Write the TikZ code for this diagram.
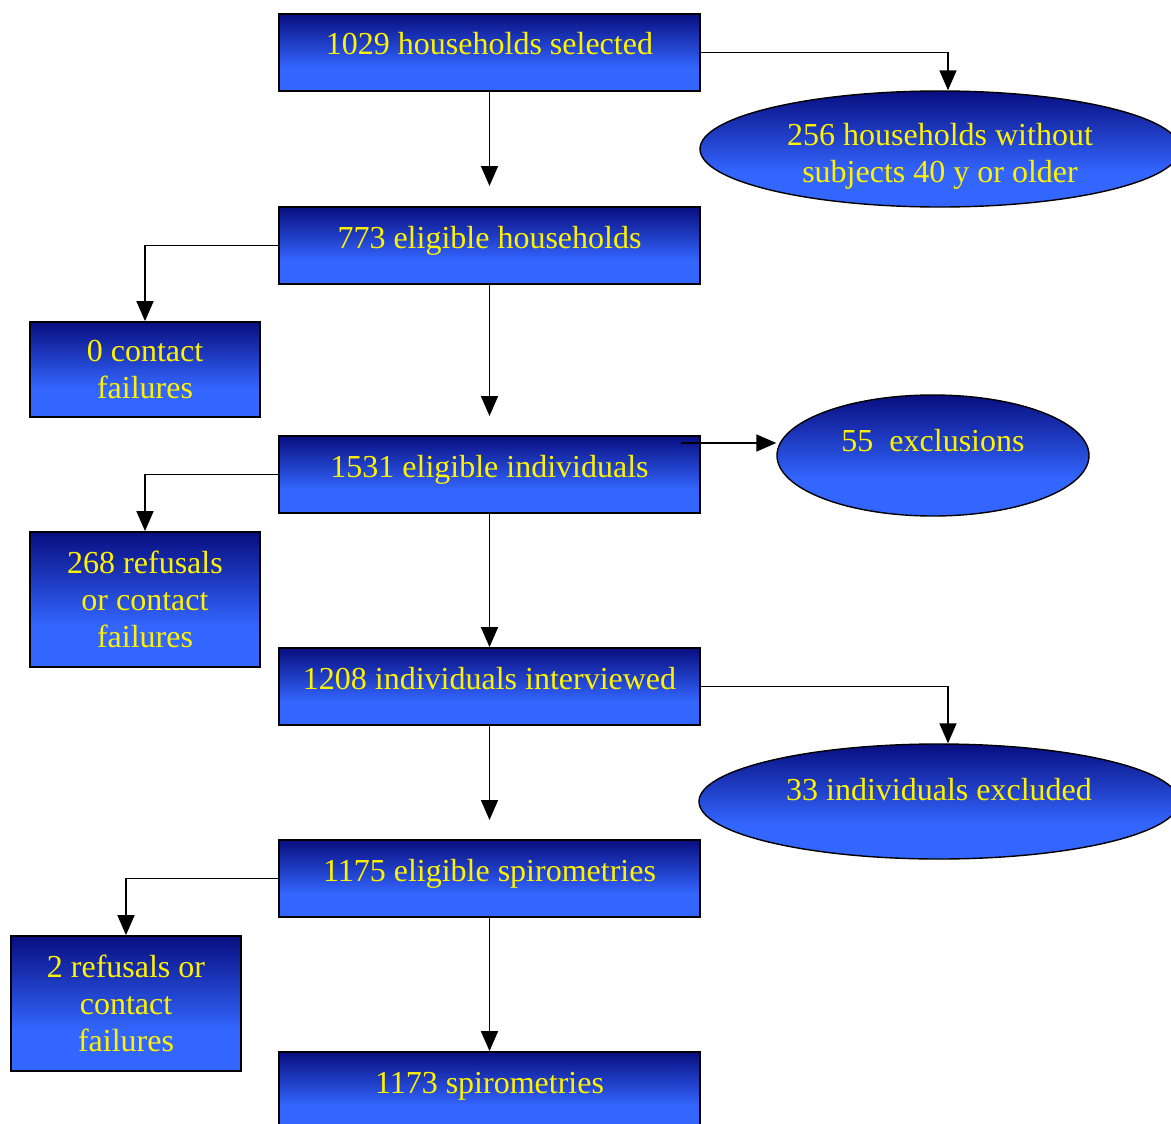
\documentclass[tikz,border=0pt]{standalone}
\usepackage{fontspec}
\setmainfont{Liberation Serif}
\usetikzlibrary{arrows.meta,shapes.geometric}

\definecolor{navytop}{RGB}{8,14,128}
\definecolor{bluebot}{RGB}{51,102,255}
\pgfdeclareverticalshading{boxfade}{100bp}{color(0bp)=(bluebot); color(40bp)=(bluebot); color(75bp)=(navytop); color(100bp)=(navytop)}

\tikzset{
  flowfill/.style={draw=black,shade,shading=boxfade,text=yellow,inner sep=0pt,font=\fontsize{32}{37}\selectfont},
  stepbox/.style={flowfill,rectangle,line width=1.8pt,minimum width=421pt,minimum height=77pt,text height=22pt,text depth=17pt},
  sidebox/.style={flowfill,rectangle,line width=1.8pt,minimum width=230pt,align=center},
  outoval/.style={flowfill,ellipse,line width=1.4pt,align=center},
  conn/.style={->,line width=1.7pt}
}

\begin{document}
\begin{tikzpicture}[x=1pt,y=-1pt,>={Triangle[length=20pt,width=17pt]}]
   \useasboundingbox (0,0) rectangle (1171,1124);

   \node[stepbox] (hs) at (489.5,52.5) {1029 households selected};
   \node[stepbox] (eh) at (489.5,245.5) {773 eligible households};
   \node[stepbox] (ei) at (489.5,474.5) {1531 eligible individuals};
   \node[stepbox] (iv) at (489.5,686.5) {1208 individuals interviewed};
   \node[stepbox] (es) at (489.5,878.5) {1175 eligible spirometries};
   \node[stepbox] (sp) at (489.5,1090.5) {1173 spirometries};

   \node[sidebox,minimum height=95pt] (cf) at (145,369.5) {0 contact\\failures};
   \node[sidebox,minimum height=135pt] (rf) at (145,599.5) {268 refusals\\or contact\\failures};
   \node[sidebox,minimum height=135pt] (rs) at (126,1003.5) {2 refusals or\\contact\\failures};

   \node[outoval,minimum width=480pt,minimum height=116pt] (wo) at (940,149) {\rule{0pt}{37pt}256 households without\\subjects 40 y or older};
   \node[outoval,minimum width=312pt,minimum height=121pt,text height=22pt,text depth=31pt] (ex) at (933,455.5) {55\ \ exclusions};
   \node[outoval,minimum width=480pt,minimum height=115pt,text height=22pt,text depth=25pt] (ie) at (939,801.5) {33 individuals excluded};

   \coordinate (g1) at (489.5,186);
   \coordinate (g2) at (489.5,416);
   \coordinate (g3) at (489.5,820);
   \coordinate (s55) at (681,443);

   \draw[conn] (hs) -- (g1);
   \draw[conn] (hs.east) -| ([xshift=8pt]wo.north);
   \draw[conn] (eh) -- (g2);
   \draw[conn] (eh.west) -| (cf.north);
   \draw[conn] (ei) -- (iv);
   \draw[conn] (s55) -- (s55 -| ex.west);
   \draw[conn] (ei.west) -| (rf.north);
   \draw[conn] (iv) -- (g3);
   \draw[conn] (iv.east) -| ([xshift=9pt]ie.north);
   \draw[conn] (es) -- (sp);
   \draw[conn] (es.west) -| (rs.north);
\end{tikzpicture}
\end{document}
